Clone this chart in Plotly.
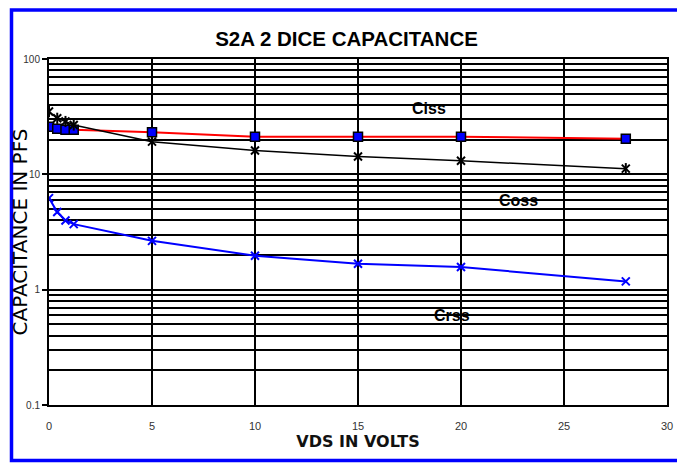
import plotly.graph_objects as go

vds = [0, 0.4, 0.8, 1.2, 5, 10, 15, 20, 28]
ciss = [25.9, 24.8, 24.3, 24.3, 23.2, 21.2, 21.2, 21.2, 20.3]
coss = [35.0, 30.6, 28.7, 26.8, 19.2, 16.1, 14.3, 13.1, 11.2]
crss = [6.22, 4.71, 3.98, 3.70, 2.65, 1.97, 1.68, 1.57, 1.18]

y_major = [0.1, 1, 10, 100]
y_major_text = ["0.1", "1", "10", "100"]
y_minor = [m * d for d in [0.1, 1, 10] for m in range(2, 10)]
x_ticks = [0, 5, 10, 15, 20, 25, 30]

# curve labels: (text, x in volts, log10 of capacitance)
labels = [("Ciss", 18.43, 1.573), ("Coss", 22.77, 0.771), ("Crss", 19.55, -0.225)]

fig = go.Figure()
fig.add_trace(go.Scatter(x=vds, y=ciss, mode="lines+markers", name="Ciss",
                         line=dict(color="red", width=2),
                         marker=dict(symbol="square", size=9, color="blue",
                                     line=dict(color="black", width=1.5))))
fig.add_trace(go.Scatter(x=vds, y=coss, mode="lines+markers", name="Coss",
                         line=dict(color="black", width=1.5),
                         marker=dict(symbol="x-thin", size=8, color="black",
                                     line=dict(color="black", width=2))))
# star marker = x plus vertical bar
fig.add_trace(go.Scatter(x=vds, y=coss, mode="markers", name="Coss", hoverinfo="skip",
                         marker=dict(symbol="line-ns", size=8, color="black",
                                     line=dict(color="black", width=2))))
fig.add_trace(go.Scatter(x=vds, y=crss, mode="lines+markers", name="Crss",
                         line=dict(color="blue", width=2),
                         marker=dict(symbol="x-thin", size=8, color="blue",
                                     line=dict(color="blue", width=2))))

for text, x, y in labels:
    fig.add_annotation(x=x, y=y, xref="x", yref="y", text="<b>" + text + "</b>",
                       showarrow=False,
                       font=dict(family="Liberation Sans", size=16, color="black"))

OFF = 8  # page body margin
W, H = 685 - OFF, 466 - OFF
# plot area in page pixels: left 49, right 667, top 59, bottom 405
L, T = 49 - OFF, 59 - OFF
R, B = W - (667 - OFF), H - (405 - OFF)
pw, ph = W - L - R, H - T - B

def px(x):
    return (x - OFF - L) / pw

def py(y):
    return (H - B - (y - OFF)) / ph

fig.add_shape(type="rect", xref="paper", yref="paper",
              x0=px(11.5), x1=px(681.5), y0=py(460.5), y1=py(10),
              line=dict(color="blue", width=3.5), fillcolor="rgba(0,0,0,0)")

fig.update_layout(
    width=W, height=H,
    margin=dict(l=L, r=R, t=T, b=B, autoexpand=False),
    paper_bgcolor="white", plot_bgcolor="white",
    showlegend=False,
    title=dict(text="<b>S2A 2 DICE CAPACITANCE</b>", x=(346.5 - OFF) / W, xanchor="center",
               y=1 - (39 - OFF) / H, yanchor="middle",
               font=dict(family="Liberation Sans", size=20.5, color="black")),
    font=dict(family="Liberation Sans", color="#333"),
)
fig.update_xaxes(range=[0, 30], tickvals=x_ticks, showgrid=True, gridcolor="black",
                 gridwidth=2, zeroline=False, showline=True, linecolor="black",
                 linewidth=2, mirror=True, ticks="outside", ticklen=10,
                 tickcolor="rgba(0,0,0,0)", tickfont=dict(size=11, color="#333"),
                 automargin=False,
                 title=dict(text="<b>VDS IN VOLTS</b>", standoff=1,
                            font=dict(family="DejaVu Sans", size=16, color="#111")))
fig.update_yaxes(type="log", range=[-1, 2], tickvals=y_major, ticktext=y_major_text,
                 showgrid=True, gridcolor="black", gridwidth=2, zeroline=False,
                 showline=True, linecolor="black", linewidth=2, mirror=True,
                 ticks="outside", ticklen=5, tickwidth=2, tickcolor="black",
                 tickfont=dict(size=10, color="#333"), automargin=False,
                 minor=dict(tickmode="array", tickvals=y_minor, showgrid=True,
                            gridcolor="black", gridwidth=2, ticks=""),
                 title=dict(text="CAPACITANCE IN PFS", standoff=0,
                            font=dict(family="DejaVu Sans", size=20, color="black")))

fig.write_html("out.html")
